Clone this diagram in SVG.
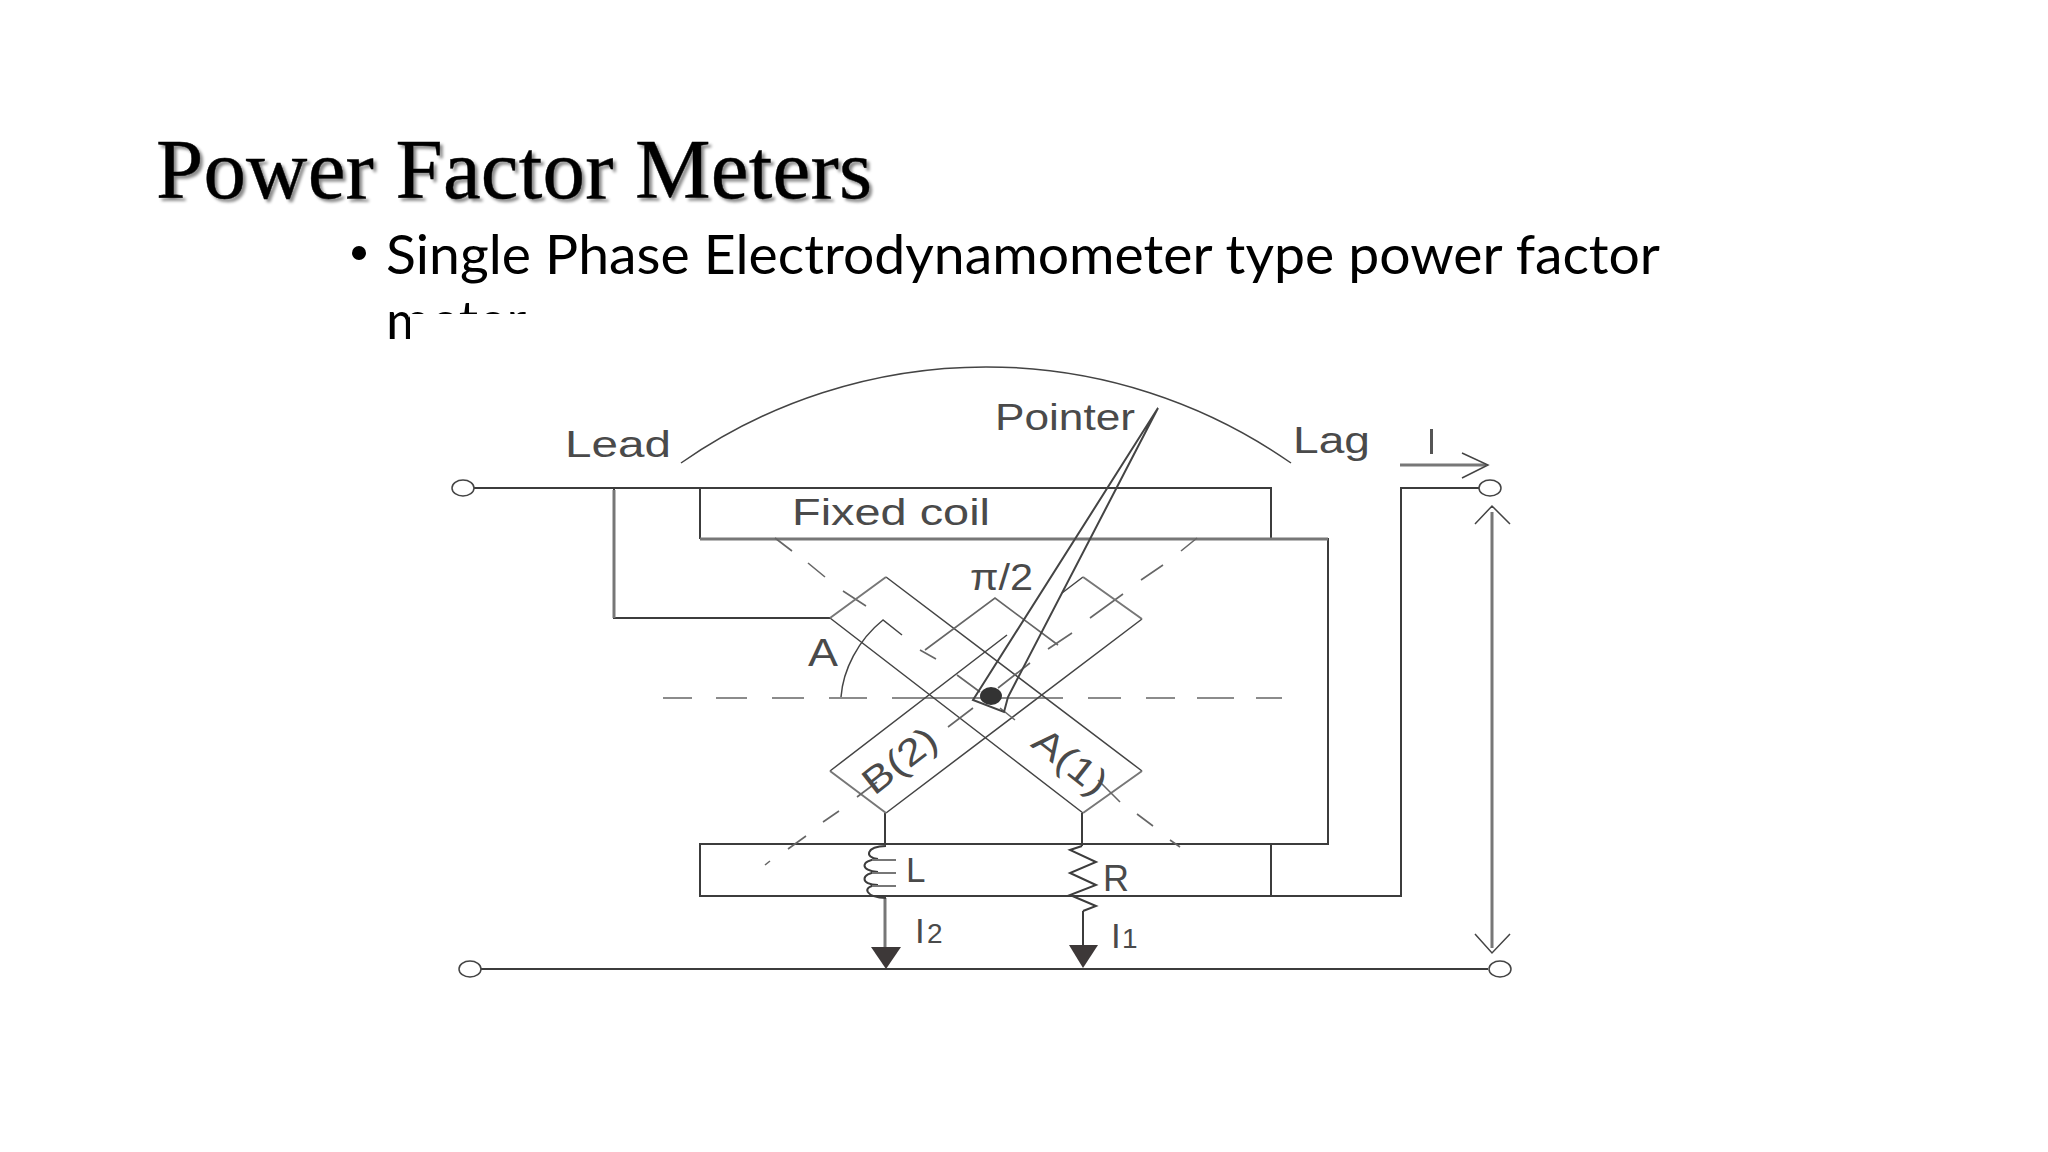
<svg xmlns="http://www.w3.org/2000/svg" width="2048" height="1152" viewBox="0 0 2048 1152">
<style>
.w{fill:none;stroke:#3c3c3c;stroke-width:2}
.g{fill:none;stroke:#777;stroke-width:3}
.t{fill:none;stroke:#444;stroke-width:1.5}
.d{fill:none;stroke:#666;stroke-width:1.6}
.l{font-family:"Liberation Sans",Arial,sans-serif;fill:#4a4a4a;font-size:36px}
.h{fill:#3d3838;stroke:none}
</style>
<defs>
<filter id="sh" x="-5%" y="-20%" width="110%" height="150%"><feDropShadow dx="3" dy="3" stdDeviation="1.8" flood-color="#000" flood-opacity="0.45"/></filter>
</defs>
<rect width="2048" height="1152" fill="#fff"/>
<g id="slide-text">
<text x="156" y="198" font-family="'Liberation Serif','Times New Roman',serif" font-size="85" fill="#000" stroke="#000" stroke-width="0.4" textLength="716" filter="url(#sh)">Power Factor Meters</text>
<circle cx="359" cy="253" r="7" fill="#000"/>
<text x="386" y="274" font-family="Lato,'Noto Sans',sans-serif" font-size="54" fill="#000" textLength="1274" lengthAdjust="spacingAndGlyphs">Single Phase Electrodynamometer type power factor</text>
<text x="386" y="340" font-family="Lato,'Noto Sans',sans-serif" font-size="54" fill="#000">meter</text>
<rect x="410" y="314" width="200" height="40" fill="#fff"/>
<rect x="380" y="339" width="40" height="20" fill="#fff"/>
</g>
<g id="connectors">
<path class="w" d="M474 488H700M614 488V618H830"/>
<path class="g" d="M614 490V618" stroke-width="2.5"/>
<path class="w" d="M1271 539H1328V844H1271"/>
<path class="w" d="M1271 896H1401V488H1479"/>
<path class="w" d="M481 969H1488"/>
<path class="w" d="M885 813V844M1082 813V846"/>
<path class="g" d="M885 898V948" stroke-width="2.5"/>
<path class="w" d="M1083 911V946"/>
<path class="g" d="M1400 465H1486"/>
<path class="t" d="M1462 453L1488 465L1462 478"/>
<path class="g" d="M1492 512V948"/>
<path class="t" d="M1475 524L1492 506L1510 524M1475 934L1492 953L1510 934"/>
<path class="h" d="M871 947H901L886 969Z"/>
<path class="h" d="M1069 945H1098L1083 968Z"/>
</g>
<g id="terminals" class="t" style="fill:none">
<ellipse cx="463" cy="488" rx="11" ry="8"/>
<ellipse cx="1490" cy="488" rx="11" ry="8"/>
<ellipse cx="470" cy="969" rx="11" ry="8"/>
<ellipse cx="1500" cy="969" rx="11" ry="8"/>
</g>
<g id="scale">
<path class="t" d="M681 463A532 532 0 0 1 1291 463"/>
<text class="l" x="565" y="457" textLength="106" lengthAdjust="spacingAndGlyphs">Lead</text>
<text class="l" x="1293" y="453" textLength="77" lengthAdjust="spacingAndGlyphs">Lag</text>
<rect x="1430" y="429" width="3" height="25" fill="#555"/>
</g>
<g id="fixed-coil-upper">
<path class="w" d="M700 488H1271V539M700 488V539"/>
<path class="g" d="M700 539H1328"/>
<text class="l" x="792" y="525" textLength="198" lengthAdjust="spacingAndGlyphs">Fixed coil</text>
</g>
<g id="fixed-coil-lower">
<path class="w" d="M700 844H1271V896H700Z"/>
</g>
<g id="axes">
<path class="d" d="M663 698H692M716 698H747M772 698H804M829 698H867M892 698H1063M1088 698H1121M1146 698H1175M1197 698H1234M1256 698H1282"/>
<path class="d" d="M775 538L792 551M808 563L825 577M843 591L866 606M1197 538L1181 551M1163 565L1141 580M1123 594L1090 618M839 811L823 822M806 836L788 849M1137 814L1153 826M1170 840L1180 847M770 861L765 865"/>
<path class="t" d="M841 697C843 670 858 640 883 620L902 635"/>
<text class="l" x="808" y="666" style="font-size:38px" textLength="30" lengthAdjust="spacingAndGlyphs">A</text>
<text class="l" x="970" y="590" textLength="63" lengthAdjust="spacingAndGlyphs">π/2</text>
</g>
<g id="moving-coil-A">
<path class="t" d="M830 618L1083 813M886 577L1142 771"/>
<path class="g" style="stroke-width:2" d="M830 618L886 577M1142 771L1083 813"/>
<path class="d" d="M1098 780L1120 802"/>
<text class="l" transform="translate(1070 762) rotate(38)" text-anchor="middle" y="12" style="font-size:37px" textLength="84" lengthAdjust="spacingAndGlyphs">A(1)</text>
</g>
<g id="moving-coil-B">
<path class="t" d="M830 771L1007 635M1062 593L1083 577M886 813L1142 619"/>
<path class="g" style="stroke-width:2" d="M830 771L886 813M1083 577L1142 619"/>
<path class="d" d="M857 797L877 782"/>
<text class="l" transform="translate(900 761) rotate(-38)" text-anchor="middle" y="12" style="font-size:37px" textLength="84" lengthAdjust="spacingAndGlyphs">B(2)</text>
</g>
<g id="inner-square">
<path class="d" d="M925 650L995 598L1058 645M920 650L936 659M1048 649L1072 633M957 675L980 692M948 727L973 708M1030 663L998 688M1015 720L1000 708"/>
</g>
<g id="pointer">
<path class="t" style="stroke-width:2" d="M1158 408L973 700L1004 712L1008 697Z"/>
<ellipse cx="991" cy="696" rx="11" ry="9" fill="#333"/>
<text class="l" x="995" y="430" textLength="140" lengthAdjust="spacingAndGlyphs">Pointer</text>
</g>
<g id="inductor-L">
<path class="w" d="M886 846C866 846 864 858 878 859C860 860 860 871 878 872C860 873 860 885 878 885C860 886 866 898 886 898"/>
<path class="g" d="M872 860H896M872 873H896M872 886H896" style="stroke-width:2"/>
<text class="l" x="906" y="882" style="font-size:35px">L</text>
<text class="l" x="915" y="943" style="font-size:35px">I</text>
<text class="l" x="927" y="943" style="font-size:28px">2</text>
</g>
<g id="resistor-R">
<path class="w" d="M1082 846L1070 850L1096 862L1070 873L1096 885L1070 895L1096 906L1083 911"/>
<text class="l" x="1103" y="891" style="font-size:36px">R</text>
<text class="l" x="1111" y="948" style="font-size:35px">I</text>
<text class="l" x="1122" y="948" style="font-size:28px">1</text>
</g>
</svg>
